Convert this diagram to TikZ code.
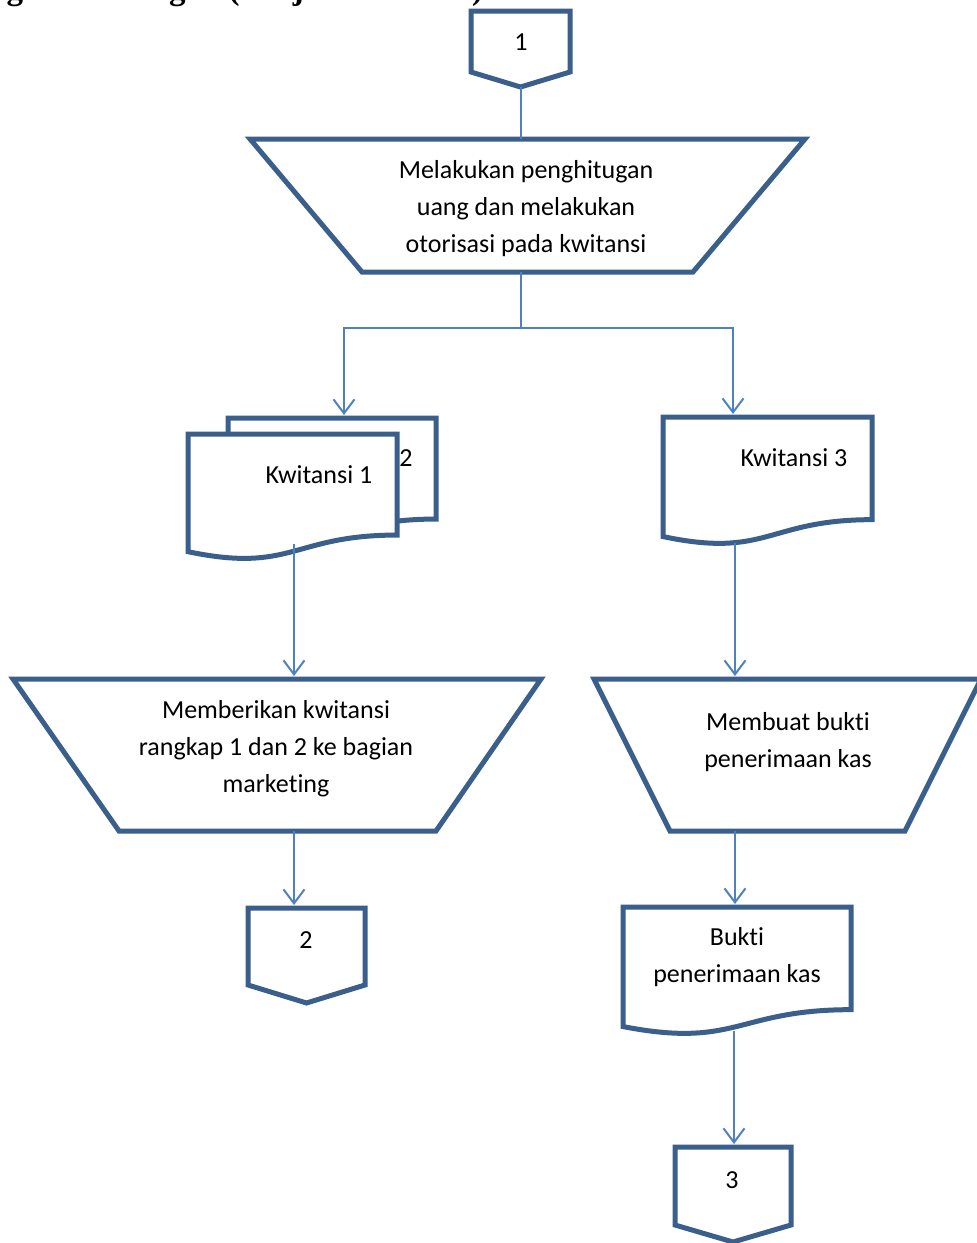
\documentclass[tikz,border=0pt]{standalone}
\usepackage{fontspec}
\setmainfont{Carlito}[Ligatures={NoCommon}]
\newfontfamily\headfont{Liberation Serif}
\usetikzlibrary{arrows.meta}

\definecolor{shapeblue}{RGB}{58,95,139}
\definecolor{linkblue}{RGB}{79,129,189}

\tikzset{
  flowshape/.style={draw=shapeblue, line width=5pt, line join=miter, fill=white},
  link/.style={draw=linkblue, line width=2pt},
  flowarrow/.style={link, -{Straight Barb[length=14pt,width=21pt]}},
  txt/.style={font=\fontsize{26}{37}\selectfont, align=center, text=black, inner sep=0pt},
}

% document symbol: left x, top y, width, height
\newcommand\docpath[4]{%
  (#1,#2) -- ({#1+#3},#2) -- ({#1+#3},{#2+0.802*#4})
  .. controls ({#1+0.5*#3},{#2+0.802*#4}) and ({#1+0.5*#3},{#2+1.107*#4}) ..
  (#1,{#2+0.934*#4}) -- cycle}

\begin{document}
\begin{tikzpicture}[x=1pt,y=-1pt]
  \useasboundingbox (0,0) rectangle (977,1243);
  \clip (0,0) rectangle (977,1243);
  \fill[white] (0,0) rectangle (977,1243);

  % heading, partly above the page edge
  \node[anchor=base west, inner sep=0pt,
        font=\headfont\bfseries\fontsize{33}{40}\selectfont] (head) at (-32,-1)
        {Bagian Keuangan (Penjualan Tunai)};

  % off-page connector 1
  \draw[flowshape] (471,11) -- (570,11) -- (570,72) -- (520.5,87) -- (471,72) -- cycle;
  \node[txt] (n1) at (521,42) {1};
  \coordinate (p1bot) at (520.5,87);

  % manual operation: counting and authorising
  \draw[flowshape] (250,139) -- (805,139) -- (693,272) -- (362,272) -- cycle;
  \node[txt] (count) at (526,208.5) {Melakukan penghitugan\\uang dan melakukan\\otorisasi pada kwitansi};
  \coordinate (counttop) at (520.5,139);
  \coordinate (countbot) at (520.5,272);
  \coordinate (split) at (520.5,328);

  % receipts 1 and 2 (stacked documents)
  \draw[flowshape] \docpath{228}{418}{208}{126};
  \node[txt] (k2) at (406,458) {2};
  \draw[flowshape] \docpath{188}{434}{209}{126};
  \node[txt] (k1) at (319,475) {Kwitansi 1};
  \coordinate (k12top) at (344,415);
  \coordinate (k1bot) at (294,544);

  % receipt 3
  \draw[flowshape] \docpath{663}{417}{209}{128};
  \node[txt] (k3) at (794,458) {Kwitansi 3};
  \coordinate (k3top) at (733,414);
  \coordinate (k3bot) at (735,543);

  % manual operation: hand receipts to marketing
  \draw[flowshape] (13,679) -- (541,679) -- (436,831) -- (119,831) -- cycle;
  \node[txt] (give) at (276,749) {Memberikan kwitansi\\rangkap 1 dan 2 ke bagian\\marketing};
  \coordinate (givetop) at (294,676);
  \coordinate (givebot) at (294,831);

  % manual operation: make cash receipt
  \draw[flowshape] (594,679) -- (981,679) -- (905,831) -- (670,831) -- cycle;
  \node[txt] (make) at (788,742.5) {Membuat bukti\\penerimaan kas};
  \coordinate (maketop) at (735,676);
  \coordinate (makebot) at (735,831);

  % off-page connector 2
  \draw[flowshape] (248,908) -- (365,908) -- (365,985) -- (306.5,1003) -- (248,985) -- cycle;
  \node[txt] (n2) at (306,940) {2};
  \coordinate (p2top) at (294,905);

  % cash receipt document
  \draw[flowshape] \docpath{623}{907}{228}{128};
  \node[txt] (bukti) at (737,957.5) {Bukti\\penerimaan kas};
  \coordinate (buktitop) at (735,904);
  \coordinate (buktibot) at (734,1031);

  % off-page connector 3
  \draw[flowshape] (675,1147) -- (791,1147) -- (791,1225) -- (733,1242) -- (675,1225) -- cycle;
  \node[txt] (n3) at (732,1180) {3};
  \coordinate (p3top) at (734,1144);

  % connectors
  \draw[link] (p1bot) -- (counttop);
  \draw[link] (countbot) -- (split);
  \draw[flowarrow] (split) -| (k12top);
  \draw[flowarrow] (split) -| (k3top);
  \draw[flowarrow] (k1bot) -- (givetop);
  \draw[flowarrow] (k3bot) -- (maketop);
  \draw[flowarrow] (givebot) -- (p2top);
  \draw[flowarrow] (makebot) -- (buktitop);
  \draw[flowarrow] (buktibot) -- (p3top);
\end{tikzpicture}
\end{document}
